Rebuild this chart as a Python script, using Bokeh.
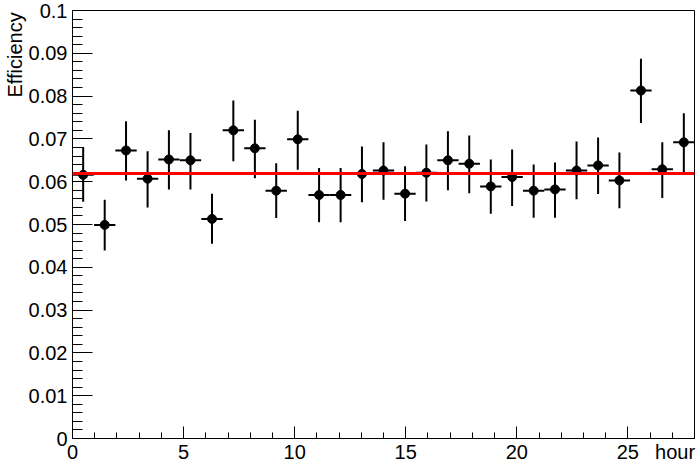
from bokeh.plotting import figure
from bokeh.models import Range1d, FixedTicker, CustomJSTickFormatter, Span
from bokeh.embed import file_html
from bokeh.resources import INLINE

# ---- data ----
hours = [0.48, 1.45, 2.41, 3.38, 4.34, 5.31, 6.28, 7.24, 8.21, 9.17, 10.14, 11.10,
         12.07, 13.03, 14.00, 14.97, 15.93, 16.90, 17.86, 18.83, 19.79, 20.76,
         21.72, 22.69, 23.66, 24.62, 25.59, 26.55, 27.52]
efficiency = [0.0616, 0.0499, 0.0673, 0.0607, 0.0652, 0.0650, 0.0513, 0.0720, 0.0678,
              0.0579, 0.0699, 0.0569, 0.0569, 0.0618, 0.0626, 0.0572, 0.0621, 0.0650,
              0.0642, 0.0589, 0.0611, 0.0579, 0.0582, 0.0626, 0.0638, 0.0603, 0.0813,
              0.0629, 0.0692]
eff_high = [0.0681, 0.0558, 0.0741, 0.0671, 0.0720, 0.0714, 0.0572, 0.0790, 0.0745,
            0.0643, 0.0766, 0.0632, 0.0632, 0.0682, 0.0692, 0.0636, 0.0687, 0.0718,
            0.0708, 0.0652, 0.0675, 0.0640, 0.0645, 0.0694, 0.0703, 0.0668, 0.0887,
            0.0692, 0.0760]
eff_low = [0.0553, 0.0439, 0.0603, 0.0540, 0.0582, 0.0582, 0.0455, 0.0648, 0.0608,
           0.0515, 0.0628, 0.0505, 0.0505, 0.0552, 0.0558, 0.0508, 0.0554, 0.0580,
           0.0573, 0.0525, 0.0543, 0.0516, 0.0516, 0.0559, 0.0571, 0.0538, 0.0737,
           0.0562, 0.0621]
bin_half_width = 0.48
fit_value = 0.0619

x_major_ticks = [0, 5, 10, 15, 20, 25]
x_minor_ticks = [0, 1, 2, 3, 4, 5, 6, 7, 8, 9, 10, 11, 12, 13, 14, 15, 16, 17, 18,
                 19, 20, 21, 22, 23, 24, 25, 26, 27, 28]
y_major_ticks = [0, 0.01, 0.02, 0.03, 0.04, 0.05, 0.06, 0.07, 0.08, 0.09, 0.1]
y_minor_ticks = [0.002, 0.004, 0.006, 0.008, 0.012, 0.014, 0.016, 0.018, 0.022, 0.024,
                 0.026, 0.028, 0.032, 0.034, 0.036, 0.038, 0.042, 0.044, 0.046, 0.048,
                 0.052, 0.054, 0.056, 0.058, 0.062, 0.064, 0.066, 0.068, 0.072, 0.074,
                 0.076, 0.078, 0.082, 0.084, 0.086, 0.088, 0.092, 0.094, 0.096, 0.098]
x_title = "hour"
y_title = "Efficiency"

FONT = "Liberation Sans"
NBSP = "\u00a0"

p = figure(width=696, height=472, x_range=Range1d(0, 28), y_range=Range1d(0, 0.1),
           output_backend="svg", toolbar_location=None,
           min_border_left=69, min_border_right=2, min_border_top=10, min_border_bottom=34)
p.grid.visible = False
p.outline_line_color = "black"
p.outline_line_width = 1
p.background_fill_color = "white"
p.border_fill_color = "white"

for ax in (p.xaxis[0], p.yaxis[0]):
    ax.axis_line_color = "black"
    ax.major_tick_line_color = "black"
    ax.minor_tick_line_color = "black"
    ax.major_tick_out = 0
    ax.minor_tick_out = 0
    ax.major_label_text_font = FONT
    ax.major_label_text_font_size = "20px"
    ax.major_label_text_color = "black"
    ax.axis_label_text_font = FONT
    ax.axis_label_text_font_size = "20px"
    ax.axis_label_text_font_style = "normal"
    ax.axis_label_text_color = "black"
    for al in ("end", "right"):
        try:
            ax.axis_label_align = al
            break
        except Exception:
            pass

p.xaxis.ticker = FixedTicker(ticks=x_major_ticks, minor_ticks=x_minor_ticks)
p.xaxis.major_tick_in = 12
p.xaxis.minor_tick_in = 6
p.xaxis.major_label_standoff = 6
# label is centred on the axis end: pad with non-breaking spaces so the word ends there
p.xaxis.axis_label = x_title + NBSP * 7
p.xaxis.axis_label_standoff = -21

p.yaxis.ticker = FixedTicker(ticks=y_major_ticks, minor_ticks=y_minor_ticks)
p.yaxis.major_tick_in = 20
p.yaxis.minor_tick_in = 10
p.yaxis.major_label_standoff = 5
p.yaxis.formatter = CustomJSTickFormatter(code="return Number(tick.toFixed(3)).toString();")
p.yaxis.axis_label = y_title + NBSP * 16
p.yaxis.axis_label_standoff = 0

# error bars
x_lo = [h - bin_half_width for h in hours]
x_hi = [h + bin_half_width for h in hours]
p.segment(x0=hours, y0=eff_low, x1=hours, y1=eff_high, line_color="black", line_width=2)
p.segment(x0=x_lo, y0=efficiency, x1=x_hi, y1=efficiency, line_color="black", line_width=2)
p.scatter(x=hours, y=efficiency, size=9, color="black")

p.add_layout(Span(location=fit_value, dimension="width", line_color="#ff0000", line_width=3))

open("out.html", "w").write(file_html(p, INLINE))
